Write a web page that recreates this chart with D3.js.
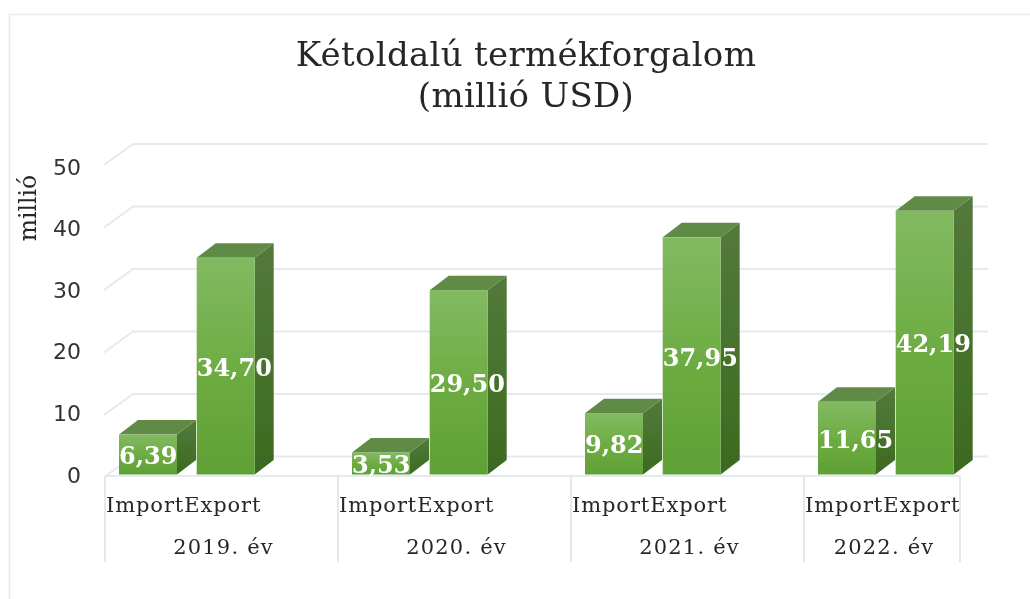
<!DOCTYPE html>
<meta charset="utf-8">
<style>
  html, body { margin: 0; background: #fff; }
  text { font-family: "DejaVu Serif", serif; fill: #262626; }
</style>
<script src="https://d3js.org/d3.v7.min.js"></script>
<div id="plot_div"></div>
<script>
    // values
    const years = ["2019. év", "2020. év", "2021. év", "2022. év"];
    const flows = ["Import", "Export"];
    const importValues = [6.39, 3.53, 9.82, 11.65];
    const exportValues = [34.70, 29.50, 37.95, 42.19];
    const yTicks = [0, 10, 20, 30, 40, 50];
    const titleLines = ["Kétoldalú termékforgalom", "(millió USD)"];
    const yTitle = "millió";

    const width = 1030, height = 599;
    const depthX = 19, depthY = 14.5;   // bar depth
    const floorX = 28, floorY = 20;     // depth of the floor
    const axisLeft = 105, axisRight = 960, gridRight = 988;

    const svg = d3.select("#plot_div").append("svg")
        .attr("width", width)
        .attr("height", height)
        .style("display", "block");

    const defs = svg.append("defs");
    defs.append("filter").attr("id", "soft")
        .attr("filterUnits", "userSpaceOnUse")
        .attr("x", 0).attr("y", 0).attr("width", width).attr("height", height)
        .append("feGaussianBlur").attr("stdDeviation", 0.55);

    function gradient(id, top, mid, bottom) {
        const g = defs.append("linearGradient").attr("id", id)
            .attr("x1", 0).attr("y1", 0).attr("x2", 0).attr("y2", 1);
        g.append("stop").attr("offset", "0%").attr("stop-color", top);
        g.append("stop").attr("offset", "60%").attr("stop-color", mid);
        g.append("stop").attr("offset", "100%").attr("stop-color", bottom);
    }
    gradient("front", "#82ba62", "#6aaa3e", "#5fa036");
    gradient("side", "#54793c", "#45712a", "#3d6a20");

    const root = svg.append("g").attr("filter", "url(#soft)");

    // chart frame, runs off the right and bottom of the picture
    root.append("path")
        .attr("d", `M9.5,${height}V14.5H${width}`)
        .attr("fill", "none").attr("stroke", "#e6e9f0").attr("stroke-width", 1.6);

    // scales: back wall, bars on the front plane, and the axis labels
    const yBack = d3.scaleLinear().domain([0, 50]).range([456.5, 144]);
    const yBar = d3.scaleLinear().domain([0, 50]).range([474.5, 162]);
    const yLabel = d3.scaleLinear().domain([0, 50]).range([475, 167]);
    const x0 = d3.scaleBand().domain(years).range([axisLeft, axisLeft + 233 * years.length]);
    const x1 = d3.scaleOrdinal().domain(flows).range([14, 91.7]);
    const barWidth = 58;

    // gridlines
    root.append("g").selectAll("path").data(yTicks).join("path")
        .attr("d", d => d === 0
            ? `M${axisLeft},${yBack(d) + floorY}L${axisLeft + floorX},${yBack(d)}H${gridRight}`
            : `M${axisLeft - 1},${yBack(d) + floorY + 1}L${axisLeft + floorX},${yBack(d)}H${gridRight}`)
        .attr("fill", "none").attr("stroke", "#e6e9f0").attr("stroke-width", 2);

    // floor front edge and category dividers
    const dividers = years.map(y => x0(y)).concat([axisRight]);
    root.append("path")
        .attr("d", `M${axisLeft},476H${axisRight}`)
        .attr("stroke", "#dde2ec").attr("stroke-width", 1.6).attr("fill", "none");
    root.append("g").selectAll("line").data(dividers).join("line")
        .attr("x1", d => d).attr("x2", d => d)
        .attr("y1", 476).attr("y2", 562)
        .attr("stroke", "#dde2ec").attr("stroke-width", 1.6);

    // bars, left to right so the nearer faces overlap correctly
    const bars = years.flatMap((y, i) => [
        { year: y, flow: "Import", value: importValues[i] },
        { year: y, flow: "Export", value: exportValues[i] }
    ]);
    const fmt = d3.formatLocale({ decimal: ",", thousands: " ", grouping: [3], currency: ["", ""] }).format(".2f");
    const barX = d => x0(d.year) + x1(d.flow);

    const bar = root.append("g").selectAll("g").data(bars).join("g");
    bar.append("path")   // side
        .attr("d", d => {
            const x = barX(d) + barWidth, t = yBar(d.value), b = yBar(0);
            return `M${x},${t}l${depthX},${-depthY}V${b - depthY}L${x},${b}Z`;
        })
        .attr("fill", "url(#side)");
    bar.append("path")   // top
        .attr("d", d => {
            const x = barX(d), t = yBar(d.value);
            return `M${x},${t}l${depthX},${-depthY}h${barWidth}l${-depthX},${depthY}Z`;
        })
        .attr("fill", "#5f8b47");
    bar.append("rect")   // front
        .attr("x", barX)
        .attr("y", d => yBar(d.value))
        .attr("width", barWidth)
        .attr("height", d => yBar(0) - yBar(d.value))
        .attr("fill", "url(#front)");

    // data labels
    root.append("g").selectAll("text").data(bars).join("text")
        .attr("x", barX)
        .attr("y", d => (yBar(d.value) + yBar(0)) / 2)
        .attr("dy", "0.4em")
        .style("font-size", "24px")
        .style("font-weight", "bold")
        .style("fill", "#fff")
        .text(d => fmt(d.value));

    // y axis
    const yAxis = root.append("g")
        .attr("transform", "translate(81,0)")
        .call(d3.axisLeft(yLabel).tickValues(yTicks).tickSize(0).tickPadding(0));
    yAxis.select(".domain").remove();
    yAxis.selectAll("text")
        .style("font-family", "'DejaVu Sans', sans-serif")
        .style("font-size", "22px")
        .style("fill", "#333");

    root.append("text")
        .attr("transform", "translate(36,208) rotate(-90)")
        .attr("text-anchor", "middle")
        .style("font-size", "23.5px")
        .text(yTitle);

    // category labels
    root.append("g").selectAll("text").data(years).join("text")
        .attr("x", d => x0(d) + 1)
        .attr("y", 512)
        .style("font-size", "21px")
        .style("letter-spacing", "0.9px")
        .text(flows.join(""));
    root.append("g").selectAll("text").data(years).join("text")
        .attr("x", d => (x0(d) + Math.min(x0(d) + x0.bandwidth(), axisRight)) / 2 + 2)
        .attr("y", 554)
        .attr("text-anchor", "middle")
        .style("font-size", "21px")
        .style("letter-spacing", "1.2px")
        .text(d => d);

    // title
    root.append("g").selectAll("text").data(titleLines).join("text")
        .attr("x", 526)
        .attr("y", (d, i) => 66 + i * 41)
        .attr("text-anchor", "middle")
        .style("font-size", "34px")
        .style("letter-spacing", "0.3px")
        .text(d => d);
</script>
